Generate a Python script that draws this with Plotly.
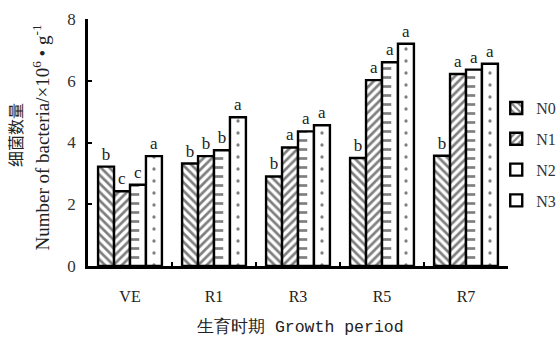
import plotly.graph_objects as go

# Growth stages and treatment series (bacteria, x10^6 per g)
periods = ["VE", "R1", "R3", "R5", "R7"]
series_names = ["N0", "N1", "N2", "N3"]
n0 = [3.22, 3.32, 2.90, 3.50, 3.57]
n1 = [2.42, 3.56, 3.84, 6.02, 6.22]
n2 = [2.63, 3.75, 4.36, 6.60, 6.36]
n3 = [3.56, 4.82, 4.56, 7.20, 6.55]
# significance letters
sig_n0 = ["b", "b", "b", "b", "b"]
sig_n1 = ["c", "b", "a", "a", "a"]
sig_n2 = ["c", "b", "a", "a", "a"]
sig_n3 = ["a", "a", "a", "a", "a"]

SERIF = "Liberation Serif"
BAR_W = 0.19
offsets = [-0.38, -0.19, 0.0, 0.19]

fig = go.Figure()

main_patterns = [
    dict(shape="\\", size=6, solidity=0.45, fgcolor="black", bgcolor="white"),
    dict(shape="/", size=6, solidity=0.45, fgcolor="black", bgcolor="white"),
    None,
    None,
]
values = [n0, n1, n2, n3]
letters = [sig_n0, sig_n1, sig_n2, sig_n3]

for i, name in enumerate(series_names):
    marker = dict(color="white", line=dict(color="black", width=2.4))
    if main_patterns[i] is not None:
        marker["pattern"] = main_patterns[i]
    fig.add_trace(go.Bar(
        x=periods, y=values[i], name=name, legendgroup=name,
        offset=offsets[i], width=BAR_W,
        marker=marker,
        text=letters[i], textposition="outside",
        textfont=dict(family=SERIF, size=17, color="#222"),
        cliponaxis=False,
    ))

# N2: short dashes along the left side of each bar
fig.add_trace(go.Bar(
    x=periods, y=n2, showlegend=False, hoverinfo="skip",
    offset=offsets[2] + 0.01, width=0.10,
    marker=dict(color="rgba(0,0,0,0)", line=dict(width=0),
                pattern=dict(shape="-", size=9, solidity=0.3,
                             fgcolor="black", bgcolor="rgba(0,0,0,0)")),
))
# N3: a column of dots down the middle of each bar
fig.add_trace(go.Bar(
    x=periods, y=n3, showlegend=False, hoverinfo="skip",
    offset=offsets[3] + 0.02, width=BAR_W - 0.04,
    marker=dict(color="rgba(0,0,0,0)", line=dict(width=0),
                pattern=dict(shape=".", size=12, solidity=0.06,
                             fgcolor="black", bgcolor="rgba(0,0,0,0)")),
))

fig.update_layout(
    width=560, height=337,
    margin=dict(l=88, r=52, t=19, b=71, autoexpand=False),
    paper_bgcolor="white", plot_bgcolor="white",
    barmode="overlay",
    font=dict(family=SERIF, size=15, color="black"),
    showlegend=True,
    legend=dict(x=0.972, y=0.708, xanchor="left", yanchor="top",
                font=dict(family=SERIF, size=16, color="#333"),
                tracegroupgap=7, itemwidth=30, bgcolor="rgba(0,0,0,0)"),
    xaxis=dict(
        type="category", range=[-0.5, 4.5], automargin=False,
        showline=True, linecolor="black", linewidth=2.5,
        ticks="inside", tickson="boundaries", ticklen=4, tickwidth=2, tickcolor="black",
        showgrid=False, ticklabelstandoff=14,
        tickfont=dict(family=SERIF, size=16, color="#222"),
    ),
    yaxis=dict(
        range=[0, 8], tickvals=[0, 2, 4, 6, 8], automargin=False,
        showline=True, linecolor="black", linewidth=2.5,
        ticks="inside", ticklen=4, tickwidth=2, tickcolor="black",
        showgrid=False, zeroline=False, ticklabelstandoff=6,
        tickfont=dict(family=SERIF, size=17, color="#333"),
    ),
)

# horizontal axis title
fig.add_annotation(text="生育时期 Growth period", xref="paper", yref="paper",
                   x=0.505, y=-0.247, xanchor="center", yanchor="middle",
                   showarrow=False,
                   font=dict(family="Liberation Mono", size=16.5, color="#222"))
# two-line vertical axis title
fig.add_annotation(text="细菌数量", xref="paper", yref="paper",
                   x=-0.174, y=0.53, xanchor="center", yanchor="middle",
                   textangle=-90, showarrow=False,
                   font=dict(family="Noto Sans CJK SC", size=16, color="#222"))
fig.add_annotation(text="Number of bacteria/×10<sup>6</sup> • g<sup>-1</sup>",
                   xref="paper", yref="paper",
                   x=-0.112, y=0.52, xanchor="center", yanchor="middle",
                   textangle=-90, showarrow=False,
                   font=dict(family=SERIF, size=19, color="#222"))

fig.write_html("out.html")
